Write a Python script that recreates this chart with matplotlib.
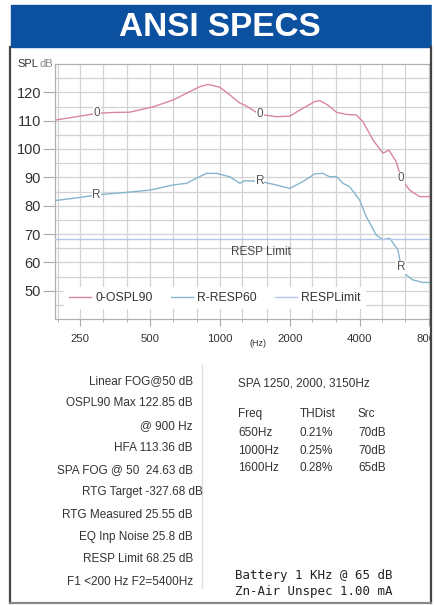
import matplotlib
matplotlib.use("Agg")
import matplotlib.pyplot as plt
from matplotlib.patches import Rectangle
from matplotlib.lines import Line2D

plt.rcParams["font.family"] = ["Liberation Sans", "DejaVu Sans"]

W, H = 435, 605

# OSPL90 curve (Hz, dB SPL)
ospl_freq = [195, 250, 295, 350, 410, 516, 630, 719, 820, 890, 1000, 1104, 1219,
             1281, 1486, 1752, 2000, 2283, 2560, 2690, 2920, 3177, 3507, 3870,
             4140, 4565, 5040, 5350, 5750, 6040, 6560, 7250, 8160]
ospl_db = [110.2, 111.6, 112.6, 112.9, 113.0, 114.9, 117.3, 119.7, 122.0, 122.8,
           121.8, 119.1, 116.2, 115.5, 112.2, 111.4, 111.6, 114.4, 116.7, 117.1,
           115.5, 113.0, 112.2, 112.0, 109.6, 103.2, 98.5, 99.6, 95.5, 89.7, 85.5,
           83.2, 83.2]

# RESP60 curve
resp_freq = [195, 250, 295, 397, 500, 630, 719, 794, 876, 967, 1104, 1219, 1281,
             1486, 1750, 2000, 2280, 2560, 2780, 2970, 3180, 3390, 3620, 4000,
             4270, 4720, 5040, 5390, 5850, 6040, 6360, 6780, 7490, 8160]
resp_db = [81.8, 82.9, 83.8, 84.7, 85.5, 87.3, 87.9, 89.7, 91.4, 91.4, 90.2, 87.9,
           88.8, 88.6, 87.3, 86.1, 88.5, 91.2, 91.4, 90.2, 90.3, 87.9, 86.7, 82.0,
           76.2, 69.6, 68.0, 68.5, 64.4, 58.3, 55.5, 53.8, 52.9, 52.9]

resp_limit = 68.25

ospl_marks = [(295, 112.6), (1486, 112.2), (6040, 89.7)]
resp_marks = [(295, 83.8), (1486, 88.6), (6040, 58.3)]

xtick_vals = [250, 500, 1000, 2000, 4000, 8000]
third_oct = [200, 250, 315, 400, 500, 630, 800, 1000, 1250, 1600, 2000, 2500,
             3150, 4000, 5000, 6300, 8000]
ytick_vals = [50, 60, 70, 80, 90, 100, 110, 120]

left_lines = ["Linear FOG@50 dB", "OSPL90 Max 122.85 dB", "@ 900 Hz",
              "HFA 113.36 dB", "SPA FOG @ 50  24.63 dB", "RTG Target -327.68 dB",
              "RTG Measured 25.55 dB", "EQ Inp Noise 25.8 dB",
              "RESP Limit 68.25 dB", "F1 <200 Hz F2=5400Hz"]
thd_header = ["Freq", "THDist", "Src"]
thd_rows = [["650Hz", "0.21%", "70dB"],
            ["1000Hz", "0.25%", "70dB"],
            ["1600Hz", "0.28%", "65dB"]]
battery_lines = ["Battery 1 KHz @ 65 dB", "Zn-Air Unspec 1.00 mA"]


def fx(x):
    return x / W


def fy(y):
    return 1 - y / H


fig = plt.figure(figsize=(W / 100, H / 100), dpi=100)

# header band
fig.patches.append(Rectangle((fx(11), fy(47)), fx(422), 42 / H,
                             transform=fig.transFigure, color="#0c50a0", zorder=0))
fig.text(fx(220), fy(27), "ANSI SPECS", color="white", fontsize=24,
         fontweight="bold", ha="center", va="center")

# chart
ax_l, ax_r, ax_t, ax_b = 55, 431, 64, 319
ax = fig.add_axes([fx(ax_l), fy(ax_b), (ax_r - ax_l) / W, (ax_b - ax_t) / H])
ax.set_xscale("log")
ax.set_xlim(195, 8120)
ax.set_ylim(40, 130)

ax.plot(ospl_freq, ospl_db, color="#d9879c", lw=1.0, label="0-OSPL90", zorder=3)
ax.plot(resp_freq, resp_db, color="#86b6cc", lw=1.0, label="R-RESP60", zorder=3)
ax.axhline(resp_limit, color="#b3c6ec", lw=1.0, label="RESPLimit", zorder=3)

for f, v in ospl_marks:
    ax.text(f, v, "0", fontsize=8.5, color="#555555", ha="center", va="center",
            zorder=4, bbox=dict(facecolor="white", edgecolor="none", pad=0.3))
for f, v in resp_marks:
    ax.text(f, v, "R", fontsize=8.5, color="#555555", ha="center", va="center",
            zorder=4, bbox=dict(facecolor="white", edgecolor="none", pad=0.3))

ax.text(1500, 63.6, "RESP Limit", fontsize=8.5, color="#444444",
        ha="center", va="center", zorder=4)

ax.set_xticks(xtick_vals)
ax.set_xticklabels([str(v) for v in xtick_vals])
ax.set_xticks(third_oct, minor=True)
ax.set_yticks(ytick_vals)
ax.set_yticks(range(45, 130, 5), minor=True)
ax.tick_params(axis="y", which="major", length=9, color="#aaaaaa", pad=1,
               labelsize=10.5, labelcolor="#333333")
ax.tick_params(axis="y", which="minor", length=0)
ax.tick_params(axis="x", which="major", length=5, color="#aaaaaa", pad=6,
               labelsize=8.2, labelcolor="#333333")
ax.tick_params(axis="x", which="minor", length=2, color="#aaaaaa", labelbottom=False)
ax.grid(True, which="both", color="#d2d2d2", lw=0.9, zorder=0)
for s in ax.spines.values():
    s.set_color("#b0b0b0")
    s.set_linewidth(0.9)

leg = ax.legend(loc="center", bbox_to_anchor=((215 - ax_l) / (ax_r - ax_l),
                                              (ax_b - 298) / (ax_b - ax_t)),
                ncol=3, fontsize=8.8, frameon=True, fancybox=False,
                handlelength=1.8, handletextpad=0.35, columnspacing=1.5,
                borderpad=0.4)
leg.get_frame().set_facecolor("white")
leg.get_frame().set_edgecolor("none")
leg.get_frame().set_alpha(1)
for t in leg.get_texts():
    t.set_color("#333333")

fig.text(fx(38), fy(64), "SPL", fontsize=8, color="#333333", ha="right", va="center")
fig.text(fx(53), fy(64), "dB", fontsize=8, color="#888888", ha="right", va="center")
fig.text(fx(258), fy(344), "(Hz)", fontsize=6.5, color="#333333", ha="center", va="center")

# bottom text block
for i, line in enumerate(left_lines):
    xr = 203 if line.startswith("RTG Target") else 193
    fig.text(fx(xr), fy(381 + i * 22.3), line, fontsize=8.5, color="#333333",
             ha="right", va="center")
fig.lines.append(Line2D([fx(202), fx(202)], [fy(365), fy(588)],
                        transform=fig.transFigure, color="#dddddd", lw=1))

fig.text(fx(238), fy(384), "SPA 1250, 2000, 3150Hz", fontsize=8.5, color="#333333",
         ha="left", va="center")
col_x = [238, 300, 358]
for j, h in enumerate(thd_header):
    fig.text(fx(col_x[j]), fy(414), h, fontsize=8.5, color="#333333", ha="left", va="center")
for i, row in enumerate(thd_rows):
    for j, cell in enumerate(row):
        fig.text(fx(col_x[j]), fy(433 + i * 17.7), cell, fontsize=8.5, color="#333333",
                 ha="left", va="center")

for i, line in enumerate(battery_lines):
    fig.text(fx(235), fy(575 + i * 17), line, fontsize=9, family="DejaVu Sans Mono",
             color="#222222", ha="left", va="center")

# panel border
fig.patches.append(Rectangle((fx(432.5), 0), fx(3), 1, transform=fig.transFigure,
                             color="white", zorder=10))
for xs, ys, c in [([10, 10], [47, 603], "#444444"),
                  ([431.5, 431.5], [47, 603], "#444444"),
                  ([10, 431.5], [603, 603], "#888888")]:
    fig.lines.append(Line2D([fx(v) for v in xs], [fy(v) for v in ys],
                            transform=fig.transFigure, color=c, lw=1.6, zorder=11))

fig.savefig("out.png", dpi=100)
